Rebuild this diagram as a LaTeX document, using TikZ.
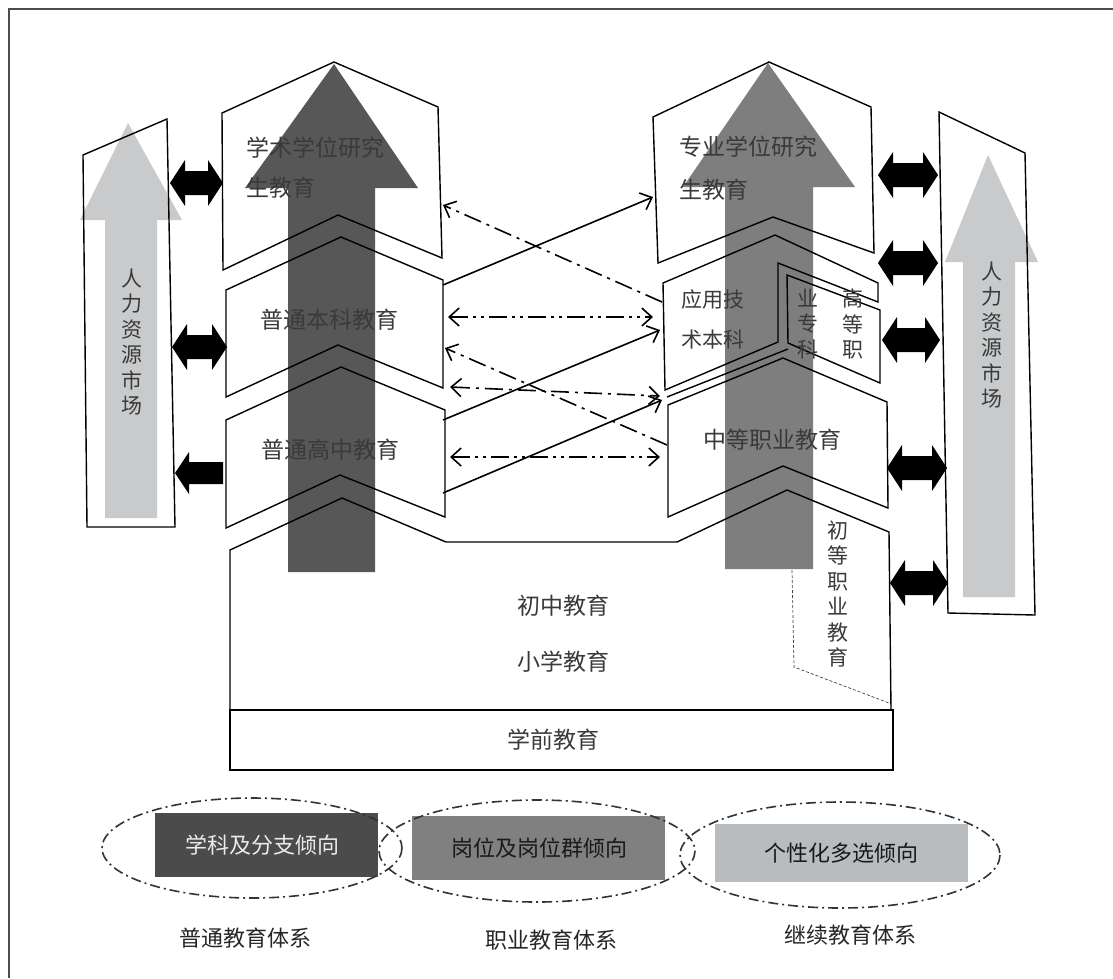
\documentclass[tikz,border=0pt]{standalone}
\usepackage{fontspec}
\newfontfamily\cjk{Noto Sans CJK SC}
\usetikzlibrary{arrows.meta}
\definecolor{darkar}{HTML}{575757}
\definecolor{midar}{HTML}{7E7E7E}
\definecolor{lightar}{HTML}{C8CACC}
\definecolor{txtc}{HTML}{3A3A3A}
\definecolor{legA}{HTML}{4B4B4B}
\definecolor{legB}{HTML}{808080}
\definecolor{legC}{HTML}{B9BCBF}
\newcommand\fatdbl[3]{%
  \fill[black] (#2,#1) -- ++(15,-23) -- ++(0,11) -- (#3-15,#1-12) -- ++(0,-11) -- (#3,#1)
   -- (#3-15,#1+23) -- ++(0,-11) -- (#2+15,#1+12) -- ++(0,11) -- cycle;}
\begin{document}
\begin{tikzpicture}[x=1pt,y=-1pt,
  >={Straight Barb[length=10pt,width=18pt]},
  outl/.style={draw=black,line width=1.4pt,line join=miter},
  txt/.style={font=\cjk\fontsize{23}{26}\selectfont,text=txtc,inner sep=0pt},
  vtxt/.style={font=\cjk\fontsize{21}{25.5}\selectfont,text=txtc,align=center,inner sep=0pt},
  stxt/.style={font=\cjk\fontsize{21}{26}\selectfont,text=txtc,align=center,inner sep=0pt},
  link/.style={draw=black,line width=1.6pt},
  dashdot/.style={link,dash pattern=on 18pt off 6pt on 3pt off 6pt},
  dashdotdot/.style={link,dash pattern=on 18pt off 5pt on 3pt off 5pt on 3pt off 5pt},
  ell/.style={draw=black!80,line width=1.6pt,dash pattern=on 10pt off 4pt on 2pt off 4pt},
  lab/.style={font=\cjk\fontsize{22}{26}\selectfont,text=black!85,inner sep=0pt}]
\useasboundingbox (0,0) rectangle (1113,978);
\fill[white] (0,0) rectangle (1113,978);
% frame
\draw[black!70,line width=1.6pt] (9,978) -- (9,9) -- (1113,9);

% big gray arrows (behind)
\fill[lightar] (128,123) -- (182,220) -- (157,220) -- (157,518) -- (105,518) -- (105,220) -- (80,220) -- cycle;
\fill[lightar] (988,155) -- (1038,262) -- (1015,262) -- (1015,597) -- (963,597) -- (963,262) -- (945,262) -- cycle;
\fill[darkar] (334,64) -- (418,188) -- (375,188) -- (375,572) -- (288,572) -- (288,188) -- (245,188) -- cycle;
\fill[midar] (768,63) -- (855,187) -- (813,187) -- (813,569) -- (725,569) -- (725,187) -- (683,187) -- cycle;

% human resource market boxes
\draw[outl] (83,155) -- (167,119) -- (175,527) -- (87,527) -- cycle;
\draw[outl] (939,112) -- (1025,153) -- (1035,615) -- (948,613) -- cycle;

% left column blocks
\draw[outl] (222,113) -- (334,62) -- (438,107) -- (442,258) -- (338,215) -- (223,270) -- cycle;
\draw[outl] (226,290) -- (341,237) -- (443,280) -- (443,388) -- (338,345) -- (226,397) -- cycle;
\draw[outl] (226,420) -- (341,367) -- (445,410) -- (445,517) -- (340,475) -- (226,528) -- cycle;
% bottom block
\draw[outl] (891,710) -- (889,532) -- (787,490) -- (677,542) -- (446,542) -- (342,498) -- (230,550) -- (230,710);
\draw[outl] (230,710) rectangle (893,770);
% right column blocks
\draw[outl] (653,117) -- (769,62) -- (871,107) -- (874,253) -- (773,217) -- (658,263) -- cycle;
\draw[outl] (663,283) -- (775,235) -- (878,283) -- (878,302) -- (778,263) -- (778,342) -- (665,390) -- cycle;
\draw[outl] (787,275) -- (880,310) -- (880,383) -- (788,343) -- cycle;
\draw[outl] (788,349) -- (667,397);
\draw[outl] (668,405) -- (783,358) -- (887,402) -- (888,508) -- (783,466) -- (668,517) -- cycle;
\draw[black!75,line width=0.7pt,dash pattern=on 3pt off 2pt] (792,570) -- (794,667) -- (889,703);

% fat black arrows
\fatdbl{183}{170}{223}
\fatdbl{347}{172}{227}
\fill[black] (175,473) -- (189,452) -- (189,462) -- (223,462) -- (223,484) -- (189,484) -- (189,494) -- cycle;
\fatdbl{175}{878}{938}
\fatdbl{263}{878}{938}
\fatdbl{340}{882}{940}
\fatdbl{468}{887}{947}
\fatdbl{583}{890}{948}

% connector end points
\coordinate (b1) at (443,285); \coordinate (d1) at (653,197);
\coordinate (e1) at (662,302); \coordinate (a1) at (443,205);
\coordinate (b2) at (448,317); \coordinate (e2) at (653,317);
\coordinate (c1) at (443,420); \coordinate (e3) at (660,330);
\coordinate (f1) at (667,445); \coordinate (b3) at (445,348);
\coordinate (b4) at (450,387); \coordinate (f2) at (660,396);
\coordinate (c2) at (443,493); \coordinate (f3) at (662,400);
\coordinate (c3) at (450,457); \coordinate (f4) at (660,457);

\draw[link,->] (b1) -- (d1);
\draw[dashdot,->] (e1) -- (a1);
\draw[dashdotdot,<->] (b2) -- (e2);
\draw[link,->] (c1) -- (e3);
\draw[dashdot,->] (f1) -- (b3);
\draw[dashdot,<->] (b4) -- (f2);
\draw[link,->] (c2) -- (f3);
\draw[dashdotdot,<->] (c3) -- (f4);

% texts
\node[txt,anchor=west] (tA1) at (246,148) {学术学位研究};
\node[txt,anchor=west] (tA2) at (246,188) {生教育};
\node[txt] (tB) at (329,320) {普通本科教育};
\node[txt] (tC) at (330,450) {普通高中教育};
\node[txt,anchor=west] (tD1) at (679,147) {专业学位研究};
\node[txt,anchor=west] (tD2) at (679,190) {生教育};
\node[stxt,anchor=west] (tE1) at (681,300) {应用技};
\node[stxt,anchor=west] (tE2) at (681,340) {术本科};
\node[vtxt] (tG1) at (808,324) {业\\专\\科};
\node[vtxt] (tG2) at (853,324) {高\\等\\职};
\node[txt] (tF) at (772,440) {中等职业教育};
\node[txt] (tJ) at (563,606) {初中教育};
\node[txt] (tP) at (563,662) {小学教育};
\node[txt] (tK) at (553,740) {学前教育};
\node[vtxt] (tV) at (838,594) {初\\等\\职\\业\\教\\育};
\node[vtxt] (tH1) at (132,342) {人\\力\\资\\源\\市\\场};
\node[vtxt] (tH2) at (992,335) {人\\力\\资\\源\\市\\场};

% legend
\fill[legA] (155,813) rectangle (378,877);
\fill[legB] (412,816) rectangle (665,880);
\fill[legC] (715,824) rectangle (968,882);
\node[lab,text=black!8] (g1) at (262,845) {学科及分支倾向};
\node[lab,text=black!90] (g2) at (539,848) {岗位及岗位群倾向};
\node[lab,text=black!90] (g3) at (841,853) {个性化多选倾向};
\draw[ell] (252,848) ellipse [x radius=150, y radius=50];
\draw[ell] (537,851) ellipse [x radius=158, y radius=51];
\draw[ell] (840,855) ellipse [x radius=160, y radius=53];
\node[lab] (s1) at (245,938) {普通教育体系};
\node[lab] (s2) at (551,940) {职业教育体系};
\node[lab] (s3) at (850,935) {继续教育体系};
\end{tikzpicture}
\end{document}
